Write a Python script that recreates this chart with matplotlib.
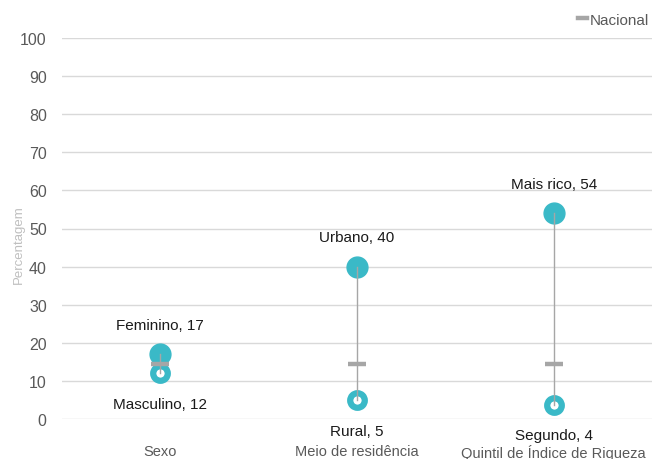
import matplotlib.pyplot as plt
from matplotlib.lines import Line2D

plt.rcParams['font.family'] = ['Liberation Sans', 'DejaVu Sans']

# Dados
categorias = ["Sexo", "Meio de residência", "Quintil de Índice de Riqueza"]
alto_nome = ["Feminino", "Urbano", "Mais rico"]
alto_valor = [17, 40, 54]
baixo_nome = ["Masculino", "Rural", "Segundo"]
baixo_valor = [12, 5, 3.7]
baixo_rotulo = [12, 5, 4]
nacional = [14.4, 14.4, 14.4]

teal = '#3AB9C7'
cinza = '#A6A6A6'

fig = plt.figure(figsize=(6.52, 4.6), dpi=100)
ax = fig.add_axes([62 / 652, 1 - 420 / 460, 590 / 652, 381 / 460])
ax.set_xlim(-0.5, 2.5)
ax.set_ylim(0, 100)
x = list(range(len(categorias)))

# Linhas verticais entre os extremos
for i in x:
    ax.plot([i, i], [baixo_valor[i], alto_valor[i]], color=cinza, lw=1, zorder=4)

ax.plot(x, alto_valor, 'o', ms=15, color=teal, mec=teal, zorder=3, ls='none')
ax.plot(x, baixo_valor, 'o', ms=10.5, mfc='white', mec=teal, mew=4.5, zorder=3, ls='none')
ax.plot(x, nacional, '_', ms=13, mew=3.2, color=cinza, zorder=5, ls='none')

# Rótulos de dados
for i in x:
    ax.annotate(f"{alto_nome[i]}, {alto_valor[i]}", (i, alto_valor[i]), xytext=(0, 21),
                textcoords='offset points', ha='center', va='center', fontsize=11, color='#1a1a1a')
    ax.annotate(f"{baixo_nome[i]}, {baixo_rotulo[i]}", (i, baixo_valor[i]), xytext=(0, -22),
                textcoords='offset points', ha='center', va='center', fontsize=11, color='#1a1a1a',
                annotation_clip=False)

# Eixos
ax.set_xticks(x)
ax.set_xticklabels(categorias, fontsize=10.5, color='#595959')
ax.tick_params(axis='x', length=0, pad=18)
ax.set_yticks(range(0, 101, 10))
ax.tick_params(axis='y', length=0, pad=11, labelsize=11.5, labelcolor='#595959')
for s in ax.spines.values():
    s.set_visible(False)
ax.grid(axis='y', color='#D9D9D9', lw=1)
ax.set_axisbelow(True)
ax.set_ylabel("Percentagem", fontsize=9.5, color='#BFBFBF')
ax.yaxis.set_label_coords(-0.063, 0.46)

# Legenda
h = Line2D([], [], color=cinza, lw=3.2)
fig.legend([h], ["Nacional"], loc='upper right', bbox_to_anchor=(1.016, 1.0), frameon=False,
           handlelength=0.6, handletextpad=0.15, fontsize=11, labelcolor='#595959')

fig.savefig("out.png")
